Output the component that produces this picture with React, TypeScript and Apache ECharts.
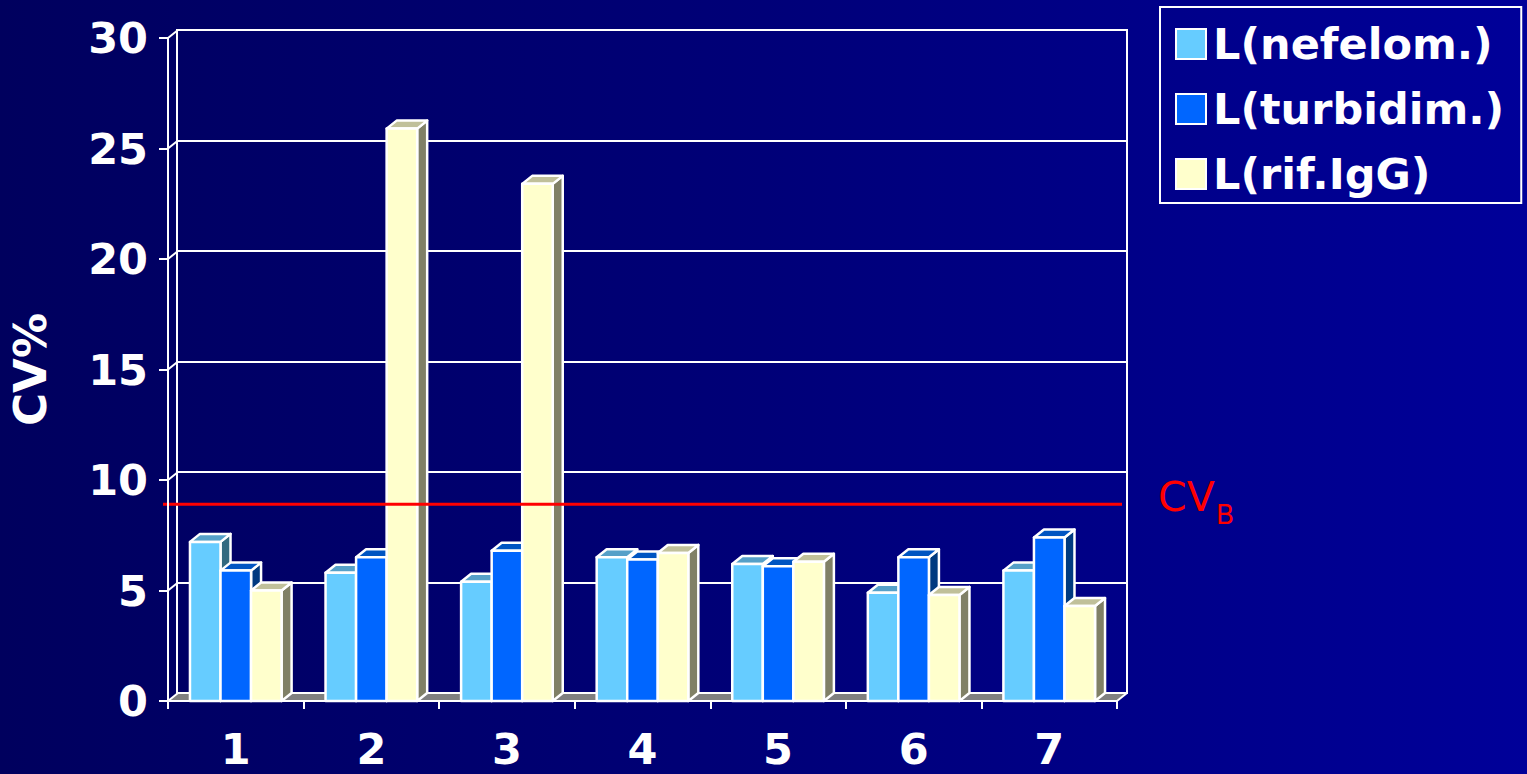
import React, { useEffect, useRef } from "react";
import * as echarts from "echarts";

// Categories and CV% values per method
const CATEGORIES = ["1", "2", "3", "4", "5", "6", "7"];
const NEFELOM = [7.2, 5.8, 5.4, 6.5, 6.2, 4.9, 5.9];
const TURBIDIM = [5.9, 6.5, 6.8, 6.4, 6.1, 6.5, 7.4];
const RIF_IGG = [5.0, 25.9, 23.4, 6.7, 6.3, 4.8, 4.3];
const SERIES_NAMES = ["L(nefelom.)", "L(turbidim.)", "L(rif.IgG)"];
const Y_TICKS = [0, 5, 10, 15, 20, 25, 30];
const CV_B = 8.9;

// 3D depth offsets (px)
const DX = 10;
const DY = 8;
const FONT = "'DejaVu Sans', Verdana, sans-serif";

const PALETTES = [
  { front: "#66CCFF", top: "#55A0C8", side: "#336A80" },
  { front: "#0066FF", top: "#0055C2", side: "#003A80" },
  { front: "#FFFFCC", top: "#C0C09A", side: "#808066" },
];

function barSeries(name: string, values: number[], s: number) {
  const pal = PALETTES[s];
  return {
    type: "custom",
    name,
    xAxisIndex: 0,
    yAxisIndex: 0,
    z: 2 + s * 0.1,
    itemStyle: { color: pal.front, borderColor: "#fff", borderWidth: 2 },
    data: values.map((v, i) => [i, v]),
    renderItem: (params: any, api: any) => {
      const idx = api.value(0);
      const val = api.value(1);
      const [cx, yTop] = api.coord([idx, val]);
      const y0 = api.coord([idx, 0])[1];
      const band = api.size([1, 0])[0];
      const w = band * 0.2253;
      const x = cx - 1.5 * w + s * w;
      const stroke = { stroke: "#fff", lineWidth: 2.5, lineJoin: "round" };
      return {
        type: "group",
        children: [
          {
            type: "polygon",
            shape: {
              points: [
                [x + w, yTop],
                [x + w + DX, yTop - DY],
                [x + w + DX, y0 - DY],
                [x + w, y0],
              ],
            },
            style: { fill: pal.side, ...stroke },
          },
          {
            type: "polygon",
            shape: {
              points: [
                [x, yTop],
                [x + DX, yTop - DY],
                [x + w + DX, yTop - DY],
                [x + w, yTop],
              ],
            },
            style: { fill: pal.top, ...stroke },
          },
          {
            type: "rect",
            shape: { x, y: yTop, width: w, height: y0 - yTop },
            style: { fill: pal.front, ...stroke },
          },
        ],
      };
    },
  };
}

export default function App() {
  const ref = useRef<HTMLDivElement>(null);

  useEffect(() => {
    if (!ref.current) return;
    const chart = echarts.init(ref.current, null, { renderer: "svg" });

    const labelStyle = {
      color: "#fff",
      fontFamily: FONT,
      fontWeight: "bold",
      fontSize: 43,
    };

    const option: any = {
      animation: false,
      backgroundColor: "transparent",
      grid: [
        { left: 167, top: 38, width: 950, height: 663 },
        {
          left: 167 + DX,
          top: 38 - DY,
          width: 950,
          height: 663,
          show: true,
          borderColor: "#fff",
          borderWidth: 2,
          backgroundColor: "transparent",
        },
      ],
      legend: {
        data: SERIES_NAMES,
        orient: "vertical",
        left: 1160,
        top: 7,
        padding: [14, 17, 6, 15],
        itemGap: 19,
        itemWidth: 30,
        itemHeight: 30,
        icon: "rect",
        borderColor: "#fff",
        borderWidth: 2,
        itemStyle: { borderColor: "#fff", borderWidth: 2 },
        textStyle: { ...labelStyle, lineHeight: 46, padding: [0, 0, 0, 2] },
        selectedMode: false,
      },
      xAxis: [
        {
          type: "category",
          gridIndex: 0,
          data: CATEGORIES,
          z: 5,
          axisLine: { show: true, lineStyle: { color: "#fff", width: 2 } },
          axisTick: { show: true, length: 8, lineStyle: { color: "#fff", width: 2 } },
          axisLabel: { ...labelStyle, margin: 26 },
          splitLine: { show: false },
        },
        {
          type: "category",
          gridIndex: 1,
          data: CATEGORIES,
          show: false,
        },
      ],
      yAxis: [
        {
          type: "value",
          gridIndex: 0,
          min: 0,
          max: 30,
          interval: 5,
          z: 5,
          name: "CV%",
          nameLocation: "middle",
          nameRotate: 90,
          nameGap: 115,
          nameTextStyle: { ...labelStyle, fontSize: 45 },
          axisLine: { show: true, lineStyle: { color: "#fff", width: 2 } },
          axisTick: { show: true, length: 9, lineStyle: { color: "#fff", width: 2 } },
          axisLabel: { ...labelStyle, margin: 20 },
          splitLine: { show: false },
        },
        {
          type: "value",
          gridIndex: 1,
          min: 0,
          max: 30,
          interval: 5,
          axisLine: { show: false },
          axisTick: { show: false },
          axisLabel: { show: false },
          splitLine: { show: true, lineStyle: { color: "#fff", width: 2 } },
        },
      ],
      series: [
        // floor and left-wall edges
        {
          type: "custom",
          name: "frame",
          xAxisIndex: 0,
          yAxisIndex: 0,
          z: 1,
          silent: true,
          data: Y_TICKS.map((v) => [0, v]),
          renderItem: (params: any, api: any) => {
            const cs = params.coordSys;
            const v = api.value(1);
            const y = api.coord([0, v])[1];
            const children: any[] = [];
            if (v === 0) {
              const xr = cs.x + cs.width;
              children.push({
                type: "polygon",
                shape: {
                  points: [
                    [cs.x, y],
                    [xr, y],
                    [xr + DX, y - DY],
                    [cs.x + DX, y - DY],
                  ],
                },
                style: { fill: "#808080" },
              });
              children.push({
                type: "line",
                shape: { x1: cs.x + DX, y1: y - DY, x2: xr + DX, y2: y - DY },
                style: { stroke: "#fff", lineWidth: 2 },
              });
              children.push({
                type: "line",
                shape: { x1: xr, y1: y, x2: xr + DX, y2: y - DY },
                style: { stroke: "#fff", lineWidth: 2 },
              });
            }
            children.push({
              type: "line",
              shape: { x1: cs.x, y1: y, x2: cs.x + DX, y2: y - DY },
              style: { stroke: "#fff", lineWidth: 2 },
            });
            return { type: "group", children };
          },
        },
        barSeries(SERIES_NAMES[0], NEFELOM, 0),
        barSeries(SERIES_NAMES[1], TURBIDIM, 1),
        barSeries(SERIES_NAMES[2], RIF_IGG, 2),
        // biological variation reference line
        {
          type: "custom",
          name: "CVB",
          xAxisIndex: 0,
          yAxisIndex: 0,
          z: 4,
          silent: true,
          data: [[0, CV_B]],
          renderItem: (params: any, api: any) => {
            const cs = params.coordSys;
            const y = api.coord([0, api.value(1)])[1];
            const xr = cs.x + cs.width;
            return {
              type: "group",
              children: [
                {
                  type: "line",
                  shape: { x1: cs.x - 5, y1: y, x2: xr + 5, y2: y },
                  style: { stroke: "#FF0000", lineWidth: 3 },
                },
                {
                  type: "text",
                  style: {
                    x: xr + 41,
                    y: y - 7,
                    text: "{a|CV}{b|B}",
                    verticalAlign: "middle",
                    align: "left",
                    rich: {
                      a: { fontSize: 41, fontFamily: FONT, fill: "#FF0000", color: "#FF0000" },
                      b: {
                        fontSize: 27,
                        fontFamily: FONT,
                        fill: "#FF0000",
                        color: "#FF0000",
                        padding: [34, 0, 0, 1],
                      },
                    },
                  },
                },
              ],
            };
          },
        },
      ],
    };

    chart.setOption(option);
    return () => chart.dispose();
  }, []);

  return (
    <div
      style={{
        position: "fixed",
        left: 0,
        top: 0,
        width: 1527,
        height: 774,
        background: "linear-gradient(to right, #00005E 0%, #000078 50%, #000099 100%)",
      }}
    >
      <div ref={ref} style={{ width: 1527, height: 774 }} />
    </div>
  );
}
